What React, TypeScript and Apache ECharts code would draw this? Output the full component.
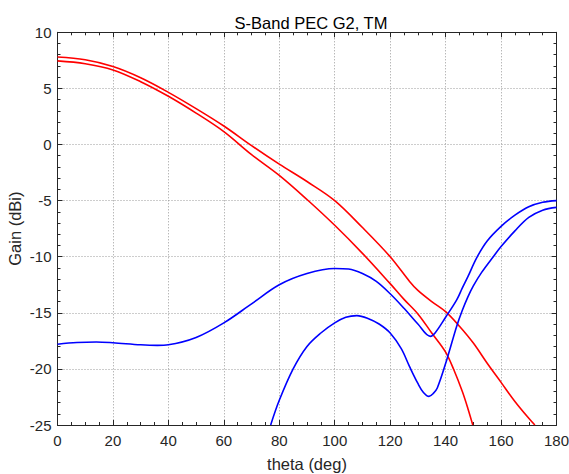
import React, { useEffect, useRef } from "react";
import * as echarts from "echarts";

const titleText = "S-Band PEC G2, TM";
const xName = "theta (deg)";
const yName = "Gain (dBi)";

// [theta, gain] pairs
const red1: [number, number][] = [
  [0, 7.8], [10, 7.55], [20, 6.95], [30, 5.95], [40, 4.65], [50, 3.2], [60, 1.65],
  [70, -0.1], [80, -1.75], [90, -3.3], [100, -5.0], [110, -7.4], [120, -10.0],
  [127, -12.2], [130, -13.0], [135, -14.0], [140, -14.9], [145, -16.2], [150, -17.7],
  [155, -19.5], [160, -21.2], [165, -22.9], [170, -24.4], [172.2, -25],
];
const red2: [number, number][] = [
  [0, 7.45], [10, 7.2], [20, 6.65], [30, 5.6], [40, 4.3], [50, 2.8], [60, 1.15],
  [70, -0.9], [80, -2.75], [90, -4.9], [100, -7.2], [110, -9.7],
  [120, -12.4], [125, -13.8], [130, -15.1], [135, -16.8], [140, -18.5], [143, -20.1],
  [146, -22.0], [148, -23.5], [149.8, -25],
];
const blue1: [number, number][] = [
  [0, -17.8], [7, -17.65], [14, -17.6], [20, -17.67], [30, -17.85], [36, -17.9],
  [40, -17.85], [50, -17.2], [60, -15.9], [70, -14.2], [80, -12.5], [90, -11.5],
  [100, -11.05], [105, -11.1], [110, -11.5], [115, -12.2], [120, -13.3], [125, -14.6],
  [130, -16.0], [134.5, -17.1], [136.2, -16.8], [140, -15.4], [144, -13.85],
  [146, -12.8], [148, -11.8], [151.2, -10.1], [155, -8.6], [160, -7.3], [165, -6.3],
  [170, -5.55], [175, -5.15], [180, -5.0],
];
const blue2: [number, number][] = [
  [76.9, -25], [80, -22.8], [85, -20.0], [90, -18.0], [95, -16.8],
  [100, -15.9], [104, -15.4], [108, -15.25], [112, -15.5], [116, -16.0], [120, -16.8],
  [124, -18.2], [127, -19.8], [130, -21.3], [132, -22.1], [134, -22.45], [135.5, -22.2],
  [137, -21.7], [140.4, -19.2], [144, -16.2], [146, -14.8], [148, -13.6], [150, -12.6],
  [153, -11.4], [157.2, -10.0], [160, -9.1], [165, -7.7], [170, -6.5], [175, -5.85],
  [180, -5.6],
];

const FONT = "Liberation Sans, Arial, Helvetica, sans-serif";
const AX = "#262626";
const GRID_LINE = { show: true, lineStyle: { color: "#9a9a9a", type: [1, 2], width: 1 } };

export default function App() {
  const ref = useRef<HTMLDivElement>(null);
  useEffect(() => {
    if (!ref.current) return;
    const chart = echarts.init(ref.current, undefined, { renderer: "svg" });
    const axisCommon = {
      type: "value" as const,
      axisLine: { show: true, onZero: false, lineStyle: { color: AX, width: 1 } },
      axisTick: { show: true, inside: true, length: 5, lineStyle: { color: AX, width: 1 } },
      minorTick: { show: true, length: 3, lineStyle: { color: AX, width: 1 } },
    };
    const series = [
      { data: red1, color: "#ff0000" },
      { data: red2, color: "#ff0000" },
      { data: blue1, color: "#0000ff" },
      { data: blue2, color: "#0000ff" },
    ].map((s) => ({
      type: "line",
      data: s.data,
      showSymbol: false,
      smooth: 0.35,
      clip: true,
      lineStyle: { color: s.color, width: 1.6 },
      xAxisIndex: 0,
      yAxisIndex: 0,
    }));
    chart.setOption({
      animation: false,
      backgroundColor: "#ffffff",
      textStyle: { fontFamily: FONT },
      title: {
        text: titleText,
        left: 306,
        top: 9,
        textAlign: "center",
        textStyle: { fontFamily: FONT, fontSize: 16.5, fontWeight: "normal", color: "#000" },
      },
      grid: {
        left: 57.5,
        right: 12.5,
        top: 32.3,
        bottom: 49,
        containLabel: false,
        outerBoundsMode: "none",
      },
      xAxis: [
        {
          ...axisCommon,
          position: "bottom",
          min: 0,
          max: 180,
          interval: 20,
          minorTick: { ...axisCommon.minorTick, splitNumber: 4 },
          splitLine: GRID_LINE,
          axisLabel: { color: AX, fontSize: 15, margin: 8, fontFamily: FONT },
          name: xName,
          nameLocation: "middle",
          nameGap: 30,
          nameTextStyle: { color: AX, fontSize: 16.5, fontFamily: FONT },
        },
        {
          ...axisCommon,
          position: "top",
          min: 0,
          max: 180,
          interval: 20,
          minorTick: { ...axisCommon.minorTick, splitNumber: 4 },
          splitLine: { show: false },
          axisLabel: { show: false },
        },
      ],
      yAxis: [
        {
          ...axisCommon,
          position: "left",
          min: -25,
          max: 10,
          interval: 5,
          minorTick: { ...axisCommon.minorTick, splitNumber: 5 },
          splitLine: GRID_LINE,
          axisLabel: { color: AX, fontSize: 15, margin: 6, fontFamily: FONT },
          name: yName,
          nameLocation: "middle",
          nameGap: 34,
          nameMoveOverlap: false,
          nameTextStyle: { color: AX, fontSize: 16.5, fontFamily: FONT },
        },
        {
          ...axisCommon,
          position: "right",
          min: -25,
          max: 10,
          interval: 5,
          minorTick: { ...axisCommon.minorTick, splitNumber: 5 },
          splitLine: { show: false },
          axisLabel: { show: false },
        },
      ],
      series,
    });
    return () => chart.dispose();
  }, []);
  return (
    <div
      ref={ref}
      style={{ position: "absolute", left: 0, top: 0, width: 569, height: 474, background: "#fff" }}
    />
  );
}
